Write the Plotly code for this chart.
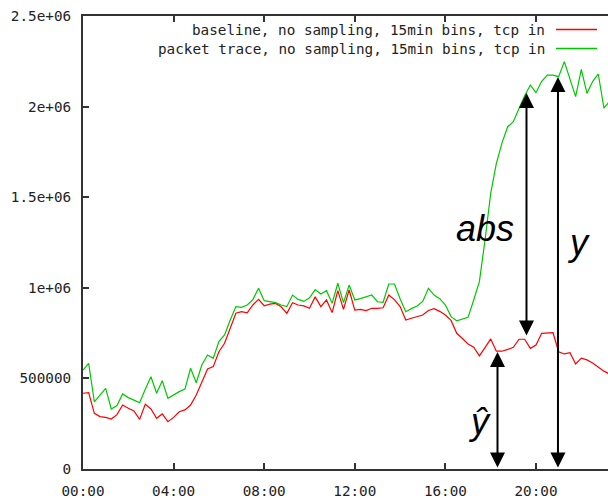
import plotly.graph_objects as go

# 15-minute bins, incoming TCP volume (values in thousands)
BIN_HOURS = 0.25
BASELINE_K = [
    418, 421, 307, 289, 285, 276, 300, 353, 335, 320, 274, 357, 331, 280, 304, 261,
    285, 316, 326, 353, 408, 482, 552, 565, 647, 694, 780, 860, 868, 862, 905, 936,
    901, 910, 914, 895, 859, 918, 905, 900, 887, 950, 896, 933, 863, 984, 881, 988,
    877, 881, 874, 887, 887, 890, 960, 935, 896, 822, 832, 840, 850, 875, 885, 870,
    850, 820, 749, 720, 690, 672, 624, 670, 718, 650, 650, 660, 672, 716, 716, 666,
    684, 749, 749, 752, 647, 635, 642, 580, 612, 602, 585, 561, 540, 524,
]
TRACE_K = [
    546, 583, 371, 410, 445, 331, 350, 414, 394, 380, 366, 440, 509, 418, 487, 390,
    410, 427, 441, 556, 476, 575, 629, 611, 703, 740, 822, 896, 892, 905, 935, 997,
    929, 923, 918, 905, 896, 960, 936, 925, 945, 990, 966, 984, 914, 1025, 918, 1015,
    933, 940, 950, 960, 923, 920, 1021, 1021, 940, 868, 885, 900, 925, 997, 960, 940,
    905, 841, 818, 826, 837, 933, 1034, 1264, 1521, 1687, 1800, 1889, 1917, 1990, 2060, 2119,
    2077, 2140, 2174, 2174, 2165, 2248, 2156, 2055, 2206, 2073, 2138, 2180, 1991, 2030,
]
SERIES_NAMES = [
    "baseline, no sampling, 15min bins, tcp in",
    "packet trace, no sampling, 15min bins, tcp in",
]
SERIES_COLORS = ["#ff0000", "#00c800"]

X_TICK_HOURS = [0, 4, 8, 12, 16, 20]
X_TICK_TEXT = ["00:00", "04:00", "08:00", "12:00", "16:00", "20:00"]
Y_TICK_VALS = [0, 500000, 1000000, 1500000, 2000000, 2500000]
Y_TICK_TEXT = ["0", "500000", "1e+06", "1.5e+06", "2e+06", "2.5e+06"]

# double-headed arrows: (hour, low value, high value)
ARROWS = [
    (18.30, 0, 646000),         # y-hat
    (19.58, 728000, 2075000),   # abs
    (20.97, 0, 2163000),        # y
]
# arrow labels: (text, hour, value)
ARROW_LABELS = [
    ("abs", 17.75, 1330000),
    ("y", 21.88, 1250000),
    ("ŷ", 17.50, 260000),
]

hours = [i * BIN_HOURS for i in range(len(BASELINE_K))]
series = [BASELINE_K, TRACE_K]

fig = go.Figure()
for name, vals, color in zip(SERIES_NAMES, series, SERIES_COLORS):
    fig.add_trace(go.Scatter(
        x=hours, y=[v * 1000 for v in vals], mode="lines", name=name,
        line=dict(color=color, width=1.2), showlegend=False,
    ))

mono = "DejaVu Sans Mono"
annotations = []
shapes = []

# gnuplot-style key: right-aligned text with sample line to its right
for row, (name, color) in enumerate(zip(SERIES_NAMES, SERIES_COLORS)):
    y_px = 29.5 + row * 19
    yp = 1 - (y_px - 16) / 453
    annotations.append(dict(
        xref="paper", yref="paper", x=(547 - 83) / 525, y=yp,
        xanchor="right", yanchor="middle", text=name, showarrow=False,
        font=dict(family=mono, size=14.3, color="#222222"),
    ))
    shapes.append(dict(
        type="line", xref="paper", yref="paper",
        x0=(556 - 83) / 525, x1=(597 - 83) / 525, y0=yp, y1=yp,
        line=dict(color=color, width=1.5),
    ))

for hr, lo, hi in ARROWS:
    annotations.append(dict(
        x=hr, y=hi, ax=hr, ay=lo, xref="x", yref="y", axref="x", ayref="y",
        text="", showarrow=True, arrowside="end+start",
        arrowhead=2, startarrowhead=2, arrowsize=1.5, startarrowsize=1.5,
        arrowwidth=2, arrowcolor="black",
    ))

for text, hr, val in ARROW_LABELS:
    annotations.append(dict(
        x=hr, y=val, xref="x", yref="y", text=text, showarrow=False,
        xanchor="center", yanchor="middle",
        font=dict(family="Liberation Sans", size=36, color="black", style="italic"),
    ))

fig.update_layout(
    width=608, height=498,
    margin=dict(l=83, r=0, t=16, b=29),
    paper_bgcolor="white", plot_bgcolor="white",
    annotations=annotations, shapes=shapes,
    xaxis=dict(
        range=[0, 525 / 90.6 * 4], tickvals=X_TICK_HOURS, ticktext=X_TICK_TEXT,
        showgrid=False, zeroline=False, showline=True, linecolor="#333333", linewidth=2,
        mirror="ticks", ticks="inside", ticklen=6, tickwidth=1.5, tickcolor="#333333",
        ticklabelstandoff=8,
        tickfont=dict(family=mono, size=14.3, color="#222222"),
    ),
    yaxis=dict(
        range=[0, 2500000], tickvals=Y_TICK_VALS, ticktext=Y_TICK_TEXT,
        showgrid=False, zeroline=False, showline=True, linecolor="#333333", linewidth=2,
        ticks="inside", ticklen=6, tickwidth=1.5, tickcolor="#333333",
        ticklabelstandoff=7,
        tickfont=dict(family=mono, size=14.3, color="#222222"),
    ),
)

fig.write_html("out.html")
